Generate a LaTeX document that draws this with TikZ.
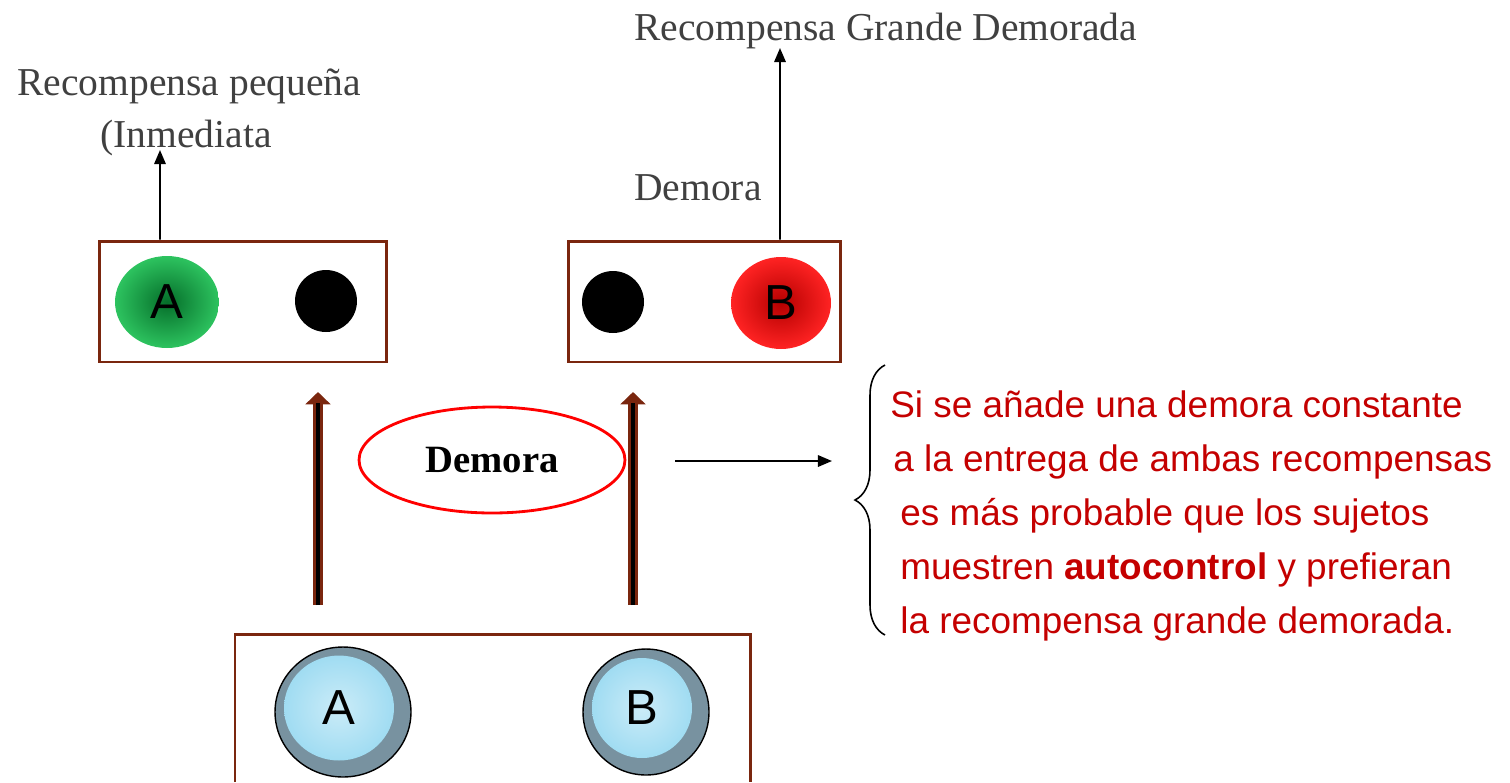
\documentclass[tikz,border=0pt]{standalone}
\usepackage{fontspec}
\setmainfont{Liberation Serif}
\setsansfont{Liberation Sans}
\usepackage{tikz}
\usetikzlibrary{shapes,arrows.meta,positioning,decorations.pathreplacing}

\definecolor{marron}{RGB}{122,38,14}
\definecolor{rojo}{RGB}{196,0,0}
\definecolor{gris}{RGB}{64,64,64}
\definecolor{anillo}{RGB}{120,146,160}
\definecolor{celeste}{RGB}{160,220,242}

\tikzset{
  caja/.style={draw=marron, line width=1.7pt, inner sep=0pt},
  punto/.style={circle, fill=black, minimum size=1.24cm, inner sep=0pt},
  flecha/.style={-{Triangle[width=6.5pt,length=8pt]}, line width=1.1pt},
  flechagruesa/.style={marron, line width=5.5pt, -{Triangle[width=14pt,length=7pt]}},
  titulo/.style={text=gris, font=\fontsize{22.5}{26}\selectfont, anchor=base west, inner sep=0pt},
  texto/.style={text=rojo, font=\sffamily\fontsize{21}{25}\selectfont, anchor=base west, inner sep=0pt},
  letra/.style={font=\sffamily\fontsize{28}{32}\selectfont, inner sep=0pt}
}

\begin{document}
\begin{tikzpicture}[x=0.02cm,y=-0.02cm]
\useasboundingbox (0,0) rectangle (1510,782);

% cajas de arriba
\node[caja, minimum width=5.76cm, minimum height=2.42cm] (cajaA) at (243,301.5) {};
\node[caja, minimum width=5.46cm, minimum height=2.42cm] (cajaB) at (704.5,301.5) {};

\node[ellipse, minimum width=2.08cm, minimum height=1.84cm, letra,
  inner color={rgb,255:red,5;green,110;blue,42}, outer color={rgb,255:red,45;green,195;blue,95}] (verdeA) at (167,302) {A};
\node[punto] (negroA) at (326,301) {};
\node[punto] (negroB) at (613,302) {};
\node[ellipse, minimum width=2.0cm, minimum height=1.84cm, letra,
  inner color={rgb,255:red,180;green,0;blue,0}, outer color={rgb,255:red,255;green,35;blue,35}] (rojoB) at (781,303) {B};

% textos de arriba
\node[titulo] (pequena) at (17,95) {Recompensa pequeña};
\node[titulo] (inmediata) at (100,147) {(Inmediata};
\node[titulo] (grande) at (634,40) {Recompensa Grande Demorada};
\node[titulo] (demoraB) at (634,200) {Demora};

\coordinate (finA) at (160,150);
\coordinate (finB) at (780,48);
\draw[flecha] ([xshift=-1.66cm]cajaA.north) -- (finA);
\draw[flecha] ([xshift=1.51cm]cajaB.north) -- (finB);

% flechas gruesas
\coordinate (baseA) at (318,605);
\coordinate (puntaA) at (318,392);
\coordinate (baseB) at (633,605);
\coordinate (puntaB) at (633,392);
\draw[flechagruesa] (baseA) -- (puntaA);
\draw[flechagruesa] (baseB) -- (puntaB);
\draw[black, line width=2.2pt] (baseA) -- ([yshift=-0.22cm]puntaA);
\draw[black, line width=2.2pt] (baseB) -- ([yshift=-0.22cm]puntaB);

\node[ellipse, draw=red, line width=1.6pt, minimum width=5.32cm, minimum height=2.12cm,
  font=\bfseries\fontsize{22}{26}\selectfont] (demora) at (492,460) {Demora\hspace{0.4cm}};

\coordinate (desde) at (675,461);
\coordinate (hacia) at (832,461);
\draw[flecha] (desde) -- (hacia);

% llave y texto
\coordinate (llaveAbajo) at (885,635);
\coordinate (llaveArriba) at (885,365);
\draw[line width=0.9pt, decorate, decoration={brace, amplitude=0.6cm}] (llaveAbajo) -- (llaveArriba);

\node[texto] (l1) at (890,417) {Si se añade una demora constante};
\node[texto] (l2) at (893,471) {a la entrega de ambas recompensas};
\node[texto] (l3) at (900,525) {es más probable que los sujetos};
\node[texto] (l4) at (900,579) {muestren \textbf{autocontrol} y prefieran};
\node[texto] (l5) at (900,633) {la recompensa grande demorada.};

% caja de abajo
\coordinate (abajoI) at (235,782);
\coordinate (abajoD) at (750,782);
\draw[marron, line width=1.7pt] (abajoI) -- (235,634) -- (750,634) -- (abajoD);

\node[ellipse, draw=black, line width=0.8pt, fill=anillo, minimum width=2.72cm, minimum height=2.6cm] (azulA) at (343,712) {};
\node[ellipse, inner color=celeste!55!white, outer color=celeste, minimum width=2.2cm, minimum height=2.1cm, letra]
  (letraA) at ([xshift=-0.08cm,yshift=0.08cm]azulA.center) {A};
\node[ellipse, draw=black, line width=0.8pt, fill=anillo, minimum width=2.52cm, minimum height=2.52cm] (azulB) at (646,712) {};
\node[ellipse, inner color=celeste!55!white, outer color=celeste, minimum width=2.0cm, minimum height=2.0cm, letra]
  (letraB) at ([xshift=-0.08cm,yshift=0.08cm]azulB.center) {B};
\end{tikzpicture}
\end{document}
